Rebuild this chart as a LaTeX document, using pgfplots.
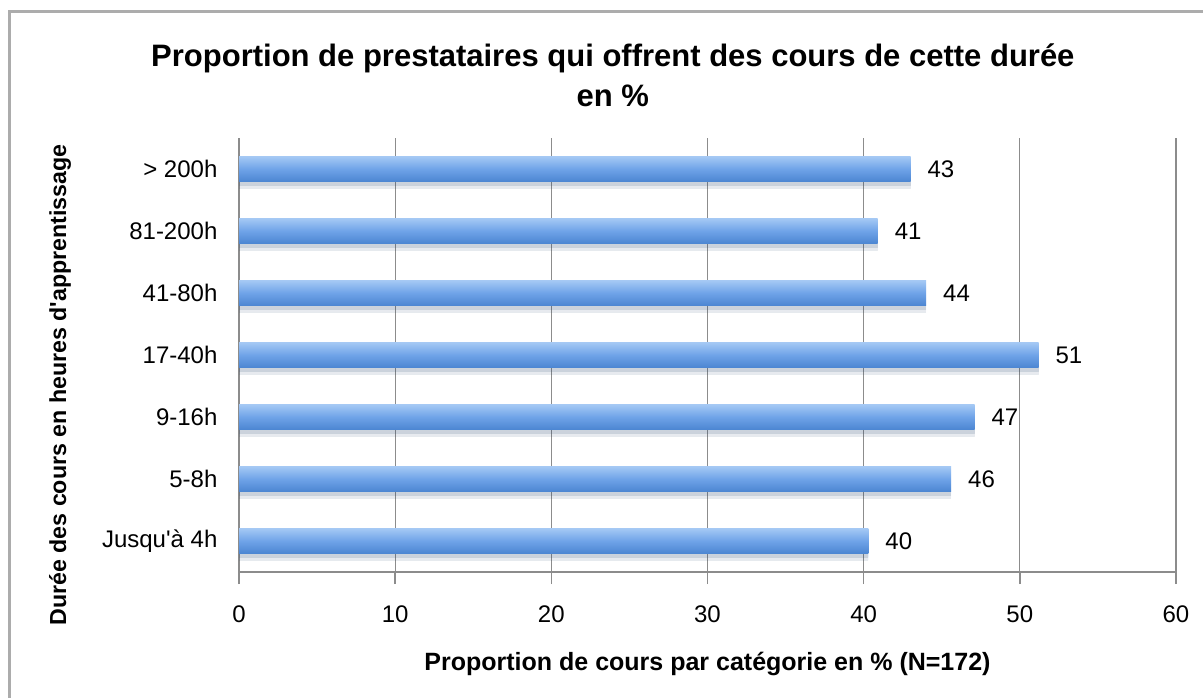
\documentclass[border=0pt]{standalone}
\usepackage{fontspec}
\setmainfont{Liberation Sans}
\newfontfamily\plainsans{Liberation Sans}
\usepackage{pgfplots}
\pgfplotsset{compat=1.18}
\definecolor{barTop}{HTML}{A4C8F4}
\definecolor{barMid}{HTML}{6FA3E8}
\definecolor{barBot}{HTML}{4C86D2}
\definecolor{gridc}{HTML}{8C8C8C}
\begin{document}
\begin{tikzpicture}
\begin{axis}[
  at={(0,0)}, anchor=south west,
  scale only axis,
  width=468.5pt, height=217pt,
  xmin=0, xmax=60,
  ymin=-0.5, ymax=6.5,
  xtick={0,10,...,60},
  ytick={0,...,6},
  yticklabels={{\plainsans Jusqu'à 4h},5-8h,9-16h,17-40h,41-80h,81-200h,> 200h},
  minor ytick={-0.5,0.5,...,6.5},
  axis x line*=bottom, axis y line*=left,
  axis line style={gridc, line width=0.8pt},
  xmajorgrids, grid style={gridc, line width=0.6pt},
  major tick style={gridc, line width=0.8pt},
  xtick style={/pgfplots/major tick length=6pt},
  ytick style={draw=none},
  minor tick style={gridc, line width=0.8pt},
  minor tick length=6pt,
  tick align=outside,
  tick label style={font=\fontsize{12}{14}\selectfont, /pgf/number format/assume math mode=true},
  xticklabel style={yshift=-9pt},
  yticklabel style={xshift=-3pt},
  title={Proportion de prestataires qui offrent des cours de cette durée\\en \%},
  title style={at={(axis description cs:0.399,1.117)}, anchor=center, align=center,
    font=\bfseries\fontsize{15.5}{20}\selectfont},
  xlabel={Proportion de cours par catégorie en \% (N=172)},
  xlabel style={at={(axis description cs:0.5,-0.212)}, anchor=center,
    font=\bfseries\fontsize{12.5}{14}\selectfont},
  ylabel={\plainsans Durée des cours en heures d'apprentissage},
  ylabel style={at={(axis description cs:-0.191,0.431)}, anchor=center,
    font=\bfseries\fontsize{11.6}{14}\selectfont},
  bar shift=0pt,
  mybar/.style={xbar, bar width=12.5pt, draw=none, mark=none,
    top color=barTop, bottom color=barBot, middle color=barMid,
    preaction={fill=black, fill opacity=0.08, transform canvas={yshift=-2pt}},
    preaction={fill=black, fill opacity=0.06, transform canvas={yshift=-3.5pt}}},
  nodes near coords,
  point meta=x,
  nodes near coords style={anchor=west, xshift=5pt, text=black,
    font=\fontsize{12}{14}\selectfont,
    /pgf/number format/.cd, fixed, precision=0, assume math mode=true},
]
\addplot[mybar] coordinates {(40.3,0)};
\addplot[mybar] coordinates {(45.6,1)};
\addplot[mybar] coordinates {(47.1,2)};
\addplot[mybar] coordinates {(51.2,3)};
\addplot[mybar] coordinates {(44.0,4)};
\addplot[mybar] coordinates {(40.9,5)};
\addplot[mybar] coordinates {(43.0,6)};
\end{axis}
\pgfresetboundingbox
\path[use as bounding box] (-119.5pt,-62.5pt) rectangle (482pt,286pt);
\draw[gray!65, line width=1.5pt] (-114.5pt,-70pt) rectangle (490pt,280pt);
\end{tikzpicture}
\end{document}
